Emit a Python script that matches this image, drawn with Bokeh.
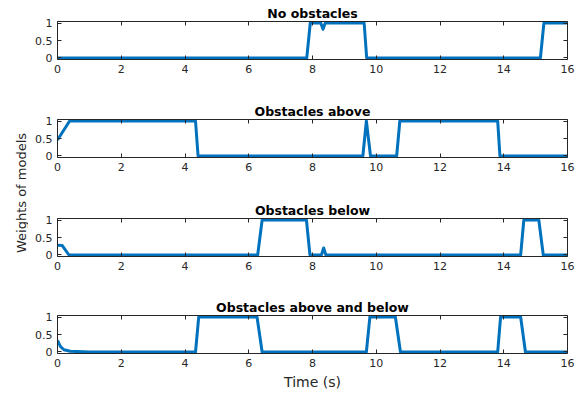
import math
from bokeh.plotting import figure
from bokeh.layouts import row, column
from bokeh.models import Range1d, LinearAxis, FixedTicker, Label, CustomJSTickFormatter
from bokeh.embed import file_html
from bokeh.resources import INLINE

# ---------------- data ----------------
titles = ["No obstacles", "Obstacles above", "Obstacles below", "Obstacles above and below"]

t_none = [0, 7.82, 7.93, 8.26, 8.33, 8.40, 9.62, 9.70, 15.15, 15.26, 16]
w_none = [0, 0, 1, 1, 0.82, 1, 1, 0, 0, 1, 1]

t_above = [0, 0.38, 4.33, 4.41, 9.58, 9.69, 9.82, 10.64, 10.74, 13.81, 13.88, 16]
w_above = [0.46, 1, 1, 0, 0, 1, 0, 0, 1, 1, 0, 0]

t_below = [0, 0.15, 0.36, 6.28, 6.42, 7.81, 7.92, 8.28, 8.35, 8.42, 14.53, 14.63, 15.10, 15.24, 16]
w_below = [0.28, 0.27, 0, 0, 1, 1, 0, 0, 0.2, 0, 0, 1, 1, 0, 0]

t_both = [0, 0.09, 0.2, 0.4, 1.0, 4.33, 4.43, 6.26, 6.42, 9.69, 9.80, 10.60, 10.76, 13.81, 13.90, 14.53, 14.68, 16]
w_both = [0.33, 0.16, 0.065, 0.02, 0, 0, 1, 1, 0, 0, 1, 1, 0, 0, 1, 1, 0, 0]

x_ticks = [0, 2, 4, 6, 8, 10, 12, 14, 16]
y_ticks = [0, 0.5, 1]
y_tick_labels = {0: "0", 0.5: "0.5", 1: "1"}
x_label = "Time (s)"
y_label = "Weights of models"

series = [(t_none, w_none), (t_above, w_above), (t_below, w_below), (t_both, w_both)]

# ---------------- style / layout ----------------
FONT = "DejaVu Sans"
TXT = "#262626"
LINE = "#0072BD"
PAD = 0.043
FRAME_H = 38
LABEL_W = 28
PANEL_W = 557
BORDERS = [(21, 30), (30, 30), (31, 30), (29, 42)]
TOTAL_H = sum(t + FRAME_H + b for t, b in BORDERS)


def style_axis(ax, ticks, show_labels):
    ax.ticker = FixedTicker(ticks=ticks)
    ax.axis_line_color = TXT
    ax.axis_line_width = 1
    ax.major_tick_line_color = TXT
    ax.major_tick_in = 4
    ax.major_tick_out = 0
    ax.minor_tick_line_color = None
    ax.major_label_text_font = FONT
    ax.major_label_text_font_size = "11px"
    ax.major_label_text_color = TXT
    ax.major_label_standoff = 5
    if not show_labels:
        ax.formatter = CustomJSTickFormatter(code="return ''")
        ax.major_label_text_font_size = "0px"
        ax.major_label_standoff = 0


panels = []
for i, ((t, w), title, (top, bottom)) in enumerate(zip(series, titles, BORDERS)):
    p = figure(width=PANEL_W, height=top + FRAME_H + bottom,
               x_range=Range1d(0, 16), y_range=Range1d(-PAD, 1 + PAD),
               output_backend="svg", toolbar_location=None,
               min_border_left=29, min_border_right=18,
               min_border_top=top, min_border_bottom=bottom,
               background_fill_color="white", border_fill_color="white",
               title=title)
    p.outline_line_color = None
    p.xgrid.visible = False
    p.ygrid.visible = False
    p.title.align = "center"
    p.title.text_font = FONT
    p.title.text_font_size = "12.5px"
    p.title.text_font_style = "bold"
    p.title.text_color = "black"
    p.title.standoff = 2
    p.title.offset = 0

    xa = p.below[0]
    ya = p.left[0]
    style_axis(xa, x_ticks, True)
    style_axis(ya, y_ticks, True)
    ya.major_label_overrides = y_tick_labels

    if i == len(series) - 1:
        xa.axis_label = x_label
        xa.axis_label_text_font = FONT
        xa.axis_label_text_font_size = "14px"
        xa.axis_label_text_font_style = "normal"
        xa.axis_label_text_color = TXT
        xa.axis_label_standoff = 4

    top_ax = LinearAxis()
    style_axis(top_ax, x_ticks, False)
    p.add_layout(top_ax, "above")
    right_ax = LinearAxis()
    style_axis(right_ax, y_ticks, False)
    p.add_layout(right_ax, "right")

    p.line(t, w, line_width=3, line_color=LINE, line_join="round")
    panels.append(p)

lab = figure(width=LABEL_W, height=TOTAL_H, x_range=Range1d(0, LABEL_W), y_range=Range1d(TOTAL_H, 0),
             x_axis_type=None, y_axis_type=None, output_backend="svg",
             toolbar_location=None, min_border=0)
lab.outline_line_color = None
lab.grid.visible = False
lab.add_layout(Label(x=21, y=192.5, text=y_label, angle=math.pi / 2,
                     text_align="center", text_baseline="middle",
                     text_font=FONT, text_font_size="13px", text_color=TXT))

layout = row(lab, column(*panels))
open("out.html", "w").write(file_html(layout, INLINE))
